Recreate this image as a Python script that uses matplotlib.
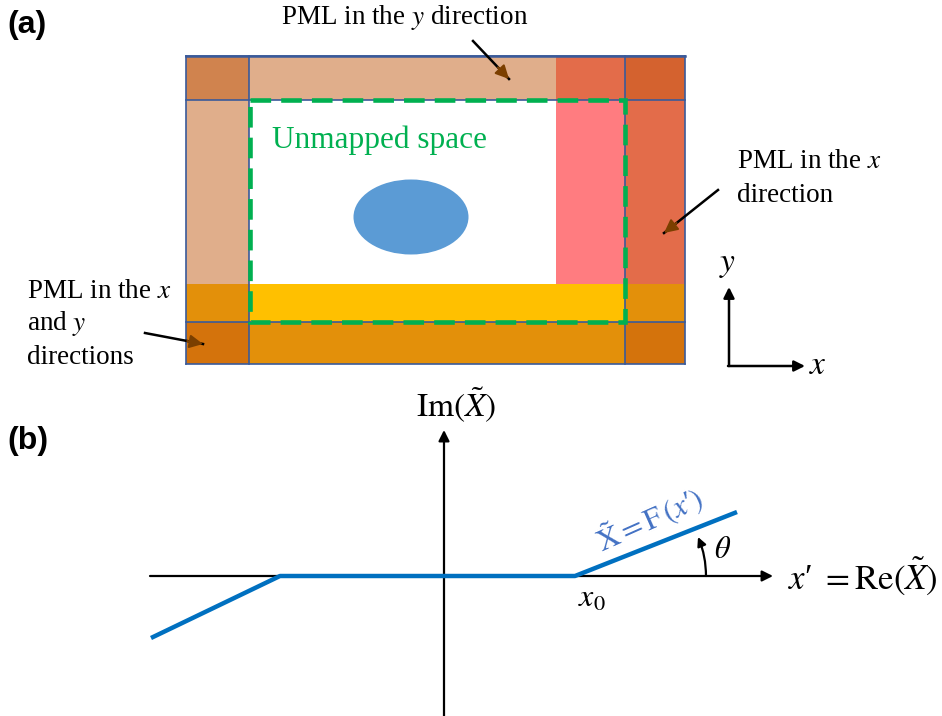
import matplotlib
matplotlib.use("Agg")
import matplotlib.pyplot as plt
from matplotlib.patches import Rectangle, Ellipse, FancyArrowPatch
import numpy as np

plt.rcParams['mathtext.fontset'] = 'stix'
SERIF = 'Liberation Serif'
SANS = 'Liberation Sans'

# ---- panel (a) layout (pixel space) ----
region_x0 = [186, 249, 556, 625, 186, 625, 556, 186, 249, 625, 186, 249, 625]
region_x1 = [249, 556, 625, 685, 249, 685, 625, 249, 625, 685, 249, 625, 685]
region_y0 = [56, 56, 56, 56, 100, 100, 100, 284, 284, 284, 322, 322, 322]
region_y1 = [100, 100, 100, 100, 284, 284, 284, 322, 322, 322, 364, 364, 364]
region_col = ['#D0834E', '#E0AE8B', '#E36C4A', '#D4622F',
              '#E0AE8B', '#E36C4A', '#FF7C80',
              '#E3900A', '#FFC000', '#E3900A',
              '#D4730C', '#E3900A', '#D4730C']

label_a = '(a)'
label_b = '(b)'
unmapped_label = 'Unmapped space'
pml_y_label = r'PML in the $y$ direction'
pml_x_lines = [r'PML in the $x$', 'direction']
pml_xy_lines = [r'PML in the $x$', r'and $y$', 'directions']
im_label = r'$\mathrm{Im}\left(\tilde{X}\right)$'
re_label = '$x$\u2032 $= \\mathrm{Re}\\left(\\tilde{X}\\right)$'
map_label = '$\\tilde{\\mathrm{X}} = \\mathrm{F}\\,(x$\u2032$)$'

# ---- panel (b) layout ----
axis_y = 576
axis_x = 444
path_x = [151, 280, 575, 737]
path_y = [638, 576, 576, 512]

fig = plt.figure(figsize=(9.42, 7.16), dpi=100)
ax = fig.add_axes([0, 0, 1, 1])
ax.set_xlim(0, 942)
ax.set_ylim(716, 0)
ax.axis('off')

for x0, x1, y0, y1, c in zip(region_x0, region_x1, region_y0, region_y1, region_col):
    ax.add_patch(Rectangle((x0, y0), x1 - x0, y1 - y0, facecolor=c, edgecolor='none', zorder=1))

# white unmapped area
ax.add_patch(Rectangle((249, 100), 556 - 249, 284 - 100, facecolor='white', edgecolor='none', zorder=1.5))

# blue outlines
oc = '#3A5A9A'
for gx in [186, 249, 625, 685]:
    ax.plot([gx, gx], [56, 364], color=oc, lw=1.2, zorder=3)
for gy in [56, 100, 322, 364]:
    ax.plot([186, 685], [gy, gy], color=oc, lw=1.2, zorder=3)
ax.plot([186, 685], [56, 56], color=oc, lw=1.8, zorder=3)

# green dashed rectangle
ax.add_patch(Rectangle((250, 100), 625 - 250, 322 - 100, facecolor='none', edgecolor='#00B050',
                       lw=3.3, linestyle=(0, (4.5, 2.2)), zorder=4))

# ellipse
ax.add_patch(Ellipse((411, 217), 115, 75, facecolor='#5B9BD5', edgecolor='none', zorder=4))

ax.text(272, 140, unmapped_label, color='#00B050', fontsize=22.5, family=SERIF, va='center', ha='left', zorder=5)

# labels
ax.text(7, 25, label_a, fontsize=23, family=SANS, weight='bold', va='center', ha='left')
ax.text(7, 441, label_b, fontsize=23, family=SANS, weight='bold', va='center', ha='left')

ax.text(405, 17, pml_y_label, fontsize=19.5, family=SERIF, va='center', ha='center')
for i, t in enumerate(pml_x_lines):
    ax.text(737, 162 + 34 * i, t, fontsize=19.5, family=SERIF, va='center', ha='left')
for i, t in enumerate(pml_xy_lines):
    ax.text(27, 291 + 33 * i, t, fontsize=19.5, family=SERIF, va='center', ha='left')


def brown_arrow(p0, p1):
    ax.plot([p0[0], p1[0]], [p0[1], p1[1]], color='black', lw=1.8, zorder=6)
    d = np.array(p1) - np.array(p0)
    d = d / np.hypot(*d)
    pa = np.array(p1) - d * 16
    ax.add_patch(FancyArrowPatch(tuple(pa), p1, arrowstyle='-|>', mutation_scale=20,
                                 color='#7B3F00', lw=1.5, zorder=7, shrinkA=0, shrinkB=0))


brown_arrow((473, 41), (509, 79))
brown_arrow((718, 190), (664, 233))
brown_arrow((145, 333), (203, 344))

# small xy axes
def black_arrow(p0, p1, ms=16, lw=1.8):
    ax.add_patch(FancyArrowPatch(p0, p1, arrowstyle='-|>', mutation_scale=ms, color='black',
                                 lw=lw, zorder=6, shrinkA=0, shrinkB=0))


black_arrow((729, 366), (729, 287))
black_arrow((728, 366), (805, 366))
ax.text(728, 263, r'$y$', fontsize=24, va='center', ha='center')
ax.text(818, 364, r'$x$', fontsize=24, va='center', ha='center')

# ---- panel (b) ----
black_arrow((150, axis_y), (773, axis_y), ms=16, lw=1.6)
black_arrow((axis_x, 716), (axis_x, 430), ms=16, lw=1.6)
ax.plot(path_x, path_y, color='#0070C0', lw=3.2, solid_capstyle='butt', zorder=7)

ax.text(456, 405, im_label, fontsize=24, va='center', ha='center')
ax.text(788, 576, re_label, fontsize=25, family=SERIF, va='center', ha='left')
ax.text(592, 598, r'$x_0$', fontsize=23, va='center', ha='center')
ax.text(723, 550, r'$\theta$', fontsize=22, va='center', ha='center')

ax.add_patch(FancyArrowPatch((706, 576), (698, 537), connectionstyle='arc3,rad=0.1', arrowstyle='-|>',
                             mutation_scale=13, color='black', lw=1.6, zorder=6, shrinkA=0, shrinkB=0))

ax.text(650, 520, map_label, fontsize=22, color='#4472C4', family=SERIF,
        rotation=24, rotation_mode='anchor', va='center', ha='center')

fig.savefig('out.png', dpi=100)
